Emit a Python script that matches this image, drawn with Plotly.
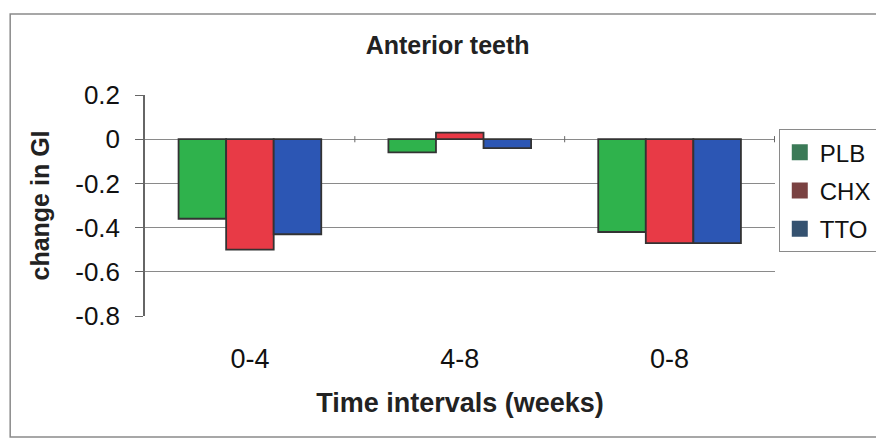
import plotly.graph_objects as go

# Change in gingival index (GI), anterior teeth
intervals = ["0-4", "4-8", "0-8"]
series_names = ["PLB", "CHX", "TTO"]
plb = [-0.36, -0.06, -0.42]
chx = [-0.50, 0.03, -0.47]
tto = [-0.43, -0.04, -0.47]
y_ticks = [0.2, 0, -0.2, -0.4, -0.6, -0.8]
y_tick_text = ["0.2", "0", "-0.2", "-0.4", "-0.6", "-0.8"]

bar_colors = ["#2fb24c", "#e83a46", "#2c56b4"]
legend_colors = ["#3b7a57", "#7a4242", "#355270"]

FONT = "Liberation Sans, Arial, sans-serif"

fig = go.Figure()
for name, vals, col in zip(series_names, [plb, chx, tto], bar_colors):
    fig.add_trace(go.Bar(
        x=intervals, y=vals, name=name, showlegend=False,
        marker=dict(color=col, line=dict(color="#333333", width=1.8)),
    ))

# legend swatches drawn in the darker key colours
for name, col in zip(series_names, legend_colors):
    fig.add_trace(go.Scatter(
        x=[None], y=[None], mode="markers", name=name, legendgroup=name,
        marker=dict(symbol="square", size=17, color=col),
    ))

# small tick marks on the zero line between categories
for b in [0.5, 1.5, 2.5]:
    fig.add_shape(type="line", xref="x", yref="y", x0=b, x1=b, y0=-0.014, y1=0.014,
                  line=dict(color="#666666", width=1))

# outer chart frame
fig.add_shape(type="rect", xref="paper", yref="paper",
              x0=-0.214, x1=1.25, y0=-0.548, y1=1.366,
              line=dict(color="#8a8a8a", width=1.5), layer="below")

fig.update_layout(
    width=876, height=441,
    margin=dict(l=145, r=101, t=95, b=125, autoexpand=False),
    paper_bgcolor="white", plot_bgcolor="white",
    font=dict(family=FONT, color="#111111"),
    barmode="group", bargap=0.32, bargroupgap=0,
    title=dict(text="<b>Anterior teeth</b>", x=0.511, xanchor="center",
               y=0.898, yanchor="middle", font=dict(size=25, family=FONT, color="#222222")),
    legend=dict(x=1.006, y=0.845, xanchor="left", yanchor="top",
                bordercolor="#8a8a8a", borderwidth=1, bgcolor="white",
                font=dict(size=24, family=FONT), tracegroupgap=4,
                traceorder="grouped", itemwidth=30),
    showlegend=True,
)
fig.update_xaxes(
    showgrid=False, showline=False, ticks="", zeroline=False,
    tickfont=dict(size=27), ticklabelstandoff=24,
    title=dict(text="<b>Time intervals (weeks)</b>", font=dict(size=27, color="#222222"), standoff=20),
)
fig.update_yaxes(
    range=[-0.8, 0.2], tickvals=y_ticks, ticktext=y_tick_text,
    showgrid=True, gridcolor="#8a8a8a", gridwidth=1,
    zeroline=True, zerolinecolor="#8a8a8a", zerolinewidth=1,
    showline=True, linecolor="#666666", linewidth=1.5,
    ticks="outside", ticklen=8, tickcolor="#666666",
    tickfont=dict(size=26), ticklabelstandoff=10,
    title=dict(text="<b>change in GI</b>", font=dict(size=25, color="#222222"), standoff=18),
)

fig.write_html("out.html")
